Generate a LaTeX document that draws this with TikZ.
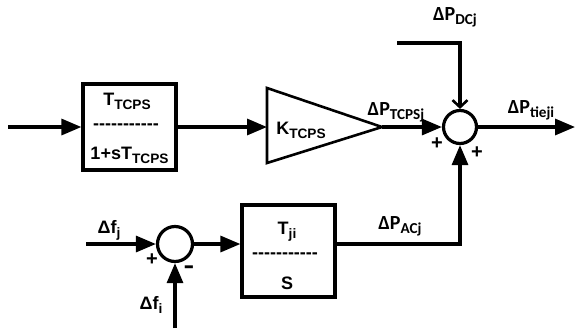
\documentclass[tikz,border=0pt]{standalone}
\usepackage{fontspec}
\setmainfont{Liberation Sans}[Ligatures=NoCommon]
\newfontfamily\calfont{Carlito}
\usetikzlibrary{arrows.meta,shapes.geometric}
\newcommand\sbs[1]{\raisebox{-0.4ex}{\scalebox{0.76}{#1}}}
\newcommand\dashrow{\mbox{-}\mbox{-}\mbox{-}\mbox{-}\mbox{-}\mbox{-}\mbox{-}\mbox{-}\mbox{-}\mbox{-}\mbox{-}}
\tikzset{
  wire/.style={line width=3.2pt},
  arr/.style={wire,-{Triangle[length=20pt,width=16pt]}},
  openarr/.style={wire,-{Straight Barb[length=7pt,width=15pt,line width=2.6pt]}},
  blk/.style={draw,line width=3.2pt,minimum width=93pt,inner sep=0pt},
  sumj/.style={draw,circle,line width=3.2pt,inner sep=0pt},
  txt/.style={font=\fontsize{18}{21}\selectfont\bfseries,inner sep=0pt},
  ctxt/.style={font=\fontsize{20}{23}\selectfont\bfseries\calfont,inner sep=0pt},
  sgn/.style={font=\fontsize{20}{23}\selectfont\bfseries,inner sep=0pt},
}
\begin{document}
\begin{tikzpicture}[x=1pt,y=-1pt]
\useasboundingbox (0,0) rectangle (575,330);
% blocks
\node[blk,minimum height=86pt] (box1) at (129.5,127) {};
\node[txt] (b1num) at (127,101) {T\sbs{TCPS}};
\node[txt] (b1bar) at (126,127) {\dashrow};
\node[txt] (b1den) at (129.5,155) {1+sT\sbs{TCPS}};
\node[blk,minimum height=92pt] (box2) at (288.5,251) {};
\node[txt] (b2num) at (287,232) {T\sbs{ji}};
\node[txt] (b2bar) at (285,256) {\dashrow};
\node[txt] (b2den) at (287,283) {S};
% gain triangle
\coordinate (ta) at (267,88);
\coordinate (tb) at (267,163);
\coordinate (tc) at (382,127);
\coordinate (tin) at (267,127);
\draw[line width=2.6pt,line join=miter] (ta) -- (tc) -- (tb) -- cycle;
\node[txt] (gain) at (301,130) {K\sbs{TCPS}};
% summing junctions
\node[sumj,minimum size=33pt] (sum1) at (460,127) {};
\node[sumj,minimum size=35pt] (sum2) at (175,244) {};
% free ends
\coordinate (in1) at (8,127);
\coordinate (out1) at (575,127);
\coordinate (dc0) at (397,43);
\coordinate (dc1) at (460,43);
\coordinate (fj0) at (86,244);
\coordinate (fi0) at (175,328);
% connectors
\draw[arr] (in1) -- (box1.west);
\draw[arr] (box1.east) -- (tin);
\draw[arr] (tc) -- (sum1.west);
\draw[openarr] (dc0) -- (dc1) -- (sum1.north);
\draw[arr] (sum1.east) -- (out1);
\draw[arr] (box2.east |- sum2.east) -| (sum1.south);
\draw[arr] (fj0) -- (sum2.west);
\draw[arr] (fi0) -- (sum2.south);
\draw[arr] (sum2.east) -- (box2.west |- sum2.east);
% labels
\node[ctxt] (lDC) at (455,17) {ΔP\sbs{DCj}};
\node[ctxt] (lTC) at (396,112) {ΔP\sbs{TCPSj}};
\node[ctxt] (lTie) at (531,110) {ΔP\sbs{tieji}};
\node[ctxt] (lAC) at (400,226) {ΔP\sbs{ACj}};
\node[txt] (lfj) at (109,230) {Δf\sbs{j}};
\node[txt] (lfi) at (151,305) {Δf\sbs{i}};
\node[sgn] (p1) at (437,144) {+};
\node[sgn] (p2) at (477,153) {+};
\node[sgn] (p3) at (152,260) {+};
\node[sgn] (m1) at (189,270) {\scalebox{1.6}[1.2]{-}};
\end{tikzpicture}
\end{document}
